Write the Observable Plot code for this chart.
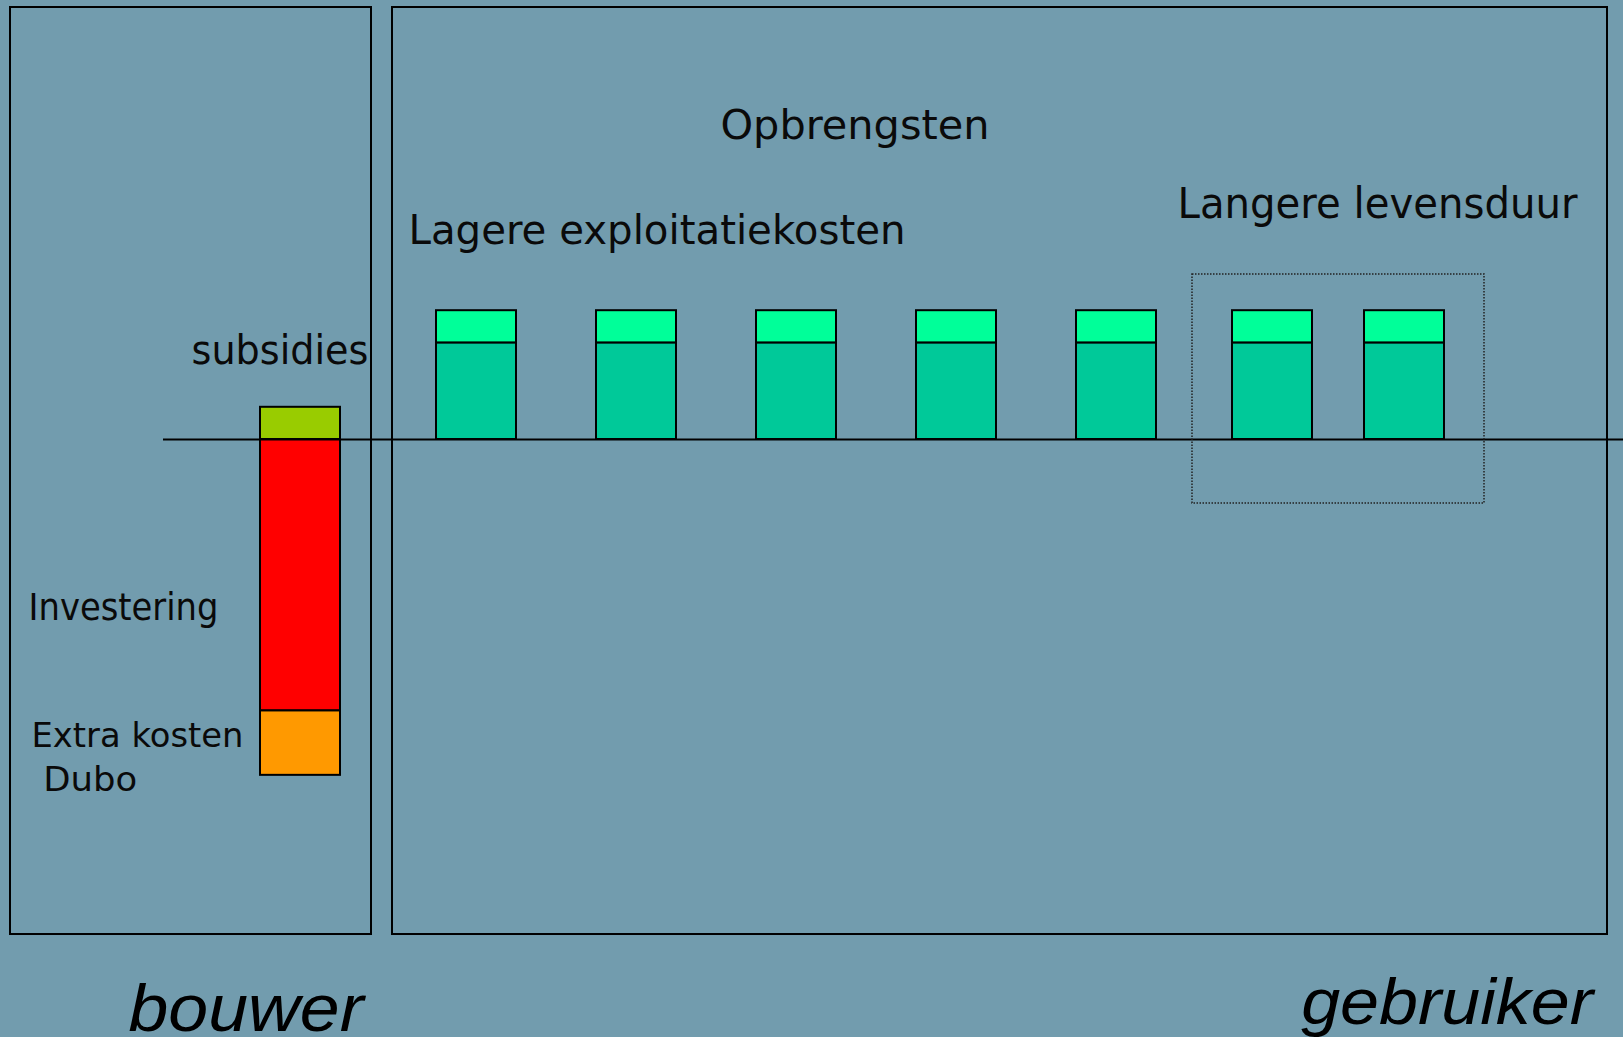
<!DOCTYPE html>
<html>
<head>
<meta charset="utf-8">
<script src="https://cdn.jsdelivr.net/npm/d3@7"></script>
<script src="https://cdn.jsdelivr.net/npm/@observablehq/plot@0.6"></script>
<style>
  html, body { margin: 0; padding: 0; background: #729cae; overflow: hidden; }
  #chart { width: 1623px; height: 1037px; }
</style>
</head>
<body>
<div id="chart"></div>
<script>
// ---------------- DATA ----------------
// bouwer (builder): one stacked bar
const bouwerParts = ["subsidies", "Investering", "Extra kosten Dubo"];
const bouwerValues = [1, -8.43, -2];
const bouwerPeriod = 0;

// gebruiker (user): seven stacked bars over time
const gebruikerPeriods = [1.1, 2.1, 3.1, 4.1, 5.1, 6.075, 6.9];
const exploitatieValues = [3, 3, 3, 3, 3, 3, 3];   // lagere exploitatiekosten
const opbrengstValues   = [1, 1, 1, 1, 1, 1, 1];   // opbrengsten (top part)

// text labels
const annotationTexts = ["Opbrengsten", "Lagere exploitatiekosten", "Langere levensduur",
                         "subsidies", "Investering", "Extra kosten", "Dubo"];
const groupTexts = ["bouwer", "gebruiker"];

// ---------------- LAYOUT / STYLE (not data) ----------------
const layout = {
  xDomain: [-1.875, 8.26875],
  yDomain: [-18.5714, 13.6335],
  barHalf: 0.25,
  panels: [
    {x1: -1.8125, x2: 0.44375, y1: -15.373, y2: 13.416},
    {x1: 0.575,   x2: 8.16875, y1: -15.373, y2: 13.416}
  ],
  box: [{x1: 5.575, x2: 7.4, y1: -1.988, y2: 5.124}],
  baseline: [{y: 0, x1: -0.85625, x2: 8.26875}],
  annotationPos: [
    {x: 2.625,    y: 9.317,  size: 41, width: 269},
    {x: 0.675,    y: 6.056,  size: 41, width: 497},
    {x: 5.48125,  y: 6.885,  size: 42, width: 400},
    {x: -0.68125, y: 2.360,  size: 41, width: 177},
    {x: -1.7,     y: -5.621, size: 37, width: 190},
    {x: -1.68125, y: -9.556, size: 34, width: 212},
    {x: -1.608,   y: -10.92, size: 34, width: 94}
  ],
  groupPos: [
    {x: -1.075, y: -18.376, size: 66, width: 235},
    {x: 6.254,  y: -18.137, size: 64, width: 292}
  ]
};
const colors = {
  domain: ["subsidies", "Investering", "Extra kosten Dubo", "exploitatie", "opbrengst"],
  range:  ["#99cc00", "#ff0000", "#ff9900", "#00c999", "#00ff99"]
};

// ---------------- BUILD TABLES ----------------
const bars = [
  ...bouwerParts.map((part, i) => ({period: bouwerPeriod, part, value: bouwerValues[i]})),
  ...gebruikerPeriods.flatMap((period, i) => [
    {period, part: "exploitatie", value: exploitatieValues[i]},
    {period, part: "opbrengst", value: opbrengstValues[i]}
  ])
];
const annotations = annotationTexts.map((text, i) => ({text, ...layout.annotationPos[i]}));
const groups = groupTexts.map((text, i) => ({text, ...layout.groupPos[i]}));

// ---------------- PLOT ----------------
const chart = Plot.plot({
  width: 1623,
  height: 1037,
  margin: 0,
  style: {background: "#729cae", fontFamily: "'DejaVu Sans', sans-serif", color: "#000"},
  x: {domain: layout.xDomain, axis: null},
  y: {domain: layout.yDomain, axis: null},
  color: {domain: colors.domain, range: colors.range},
  marks: [
    Plot.rect(layout.panels, {x1: "x1", x2: "x2", y1: "y1", y2: "y2", fill: "none", stroke: "#000", strokeWidth: 2}),
    Plot.rectY(bars, {
      x1: d => d.period - layout.barHalf,
      x2: d => d.period + layout.barHalf,
      y: "value",
      fill: "part",
      stroke: "#000",
      strokeWidth: 2
    }),
    Plot.ruleY(layout.baseline, {y: "y", x1: "x1", x2: "x2", stroke: "#000", strokeWidth: 2}),
    Plot.rect(layout.box, {x1: "x1", x2: "x2", y1: "y1", y2: "y2", fill: "none", stroke: "#222", strokeWidth: 1.5, strokeDasharray: "1.5,1.5"}),
    Plot.text(annotations, {
      x: "x", y: "y", text: "text", textAnchor: "start", lineAnchor: "bottom",
      fontSize: "size", fill: "#0a0a0a", fontFamily: "'DejaVu Sans', sans-serif"
    }),
    Plot.text(groups, {
      x: "x", y: "y", text: "text", textAnchor: "start", lineAnchor: "bottom",
      fontSize: "size", fill: "#000", fontStyle: "italic",
      fontFamily: "'Liberation Sans Narrow', 'Liberation Sans', Arial, sans-serif"
    })
  ]
});

// fit text widths to the reference
const widthByText = new Map([...annotations, ...groups].map(d => [d.text, d.width]));
d3.select(chart).selectAll("text").each(function () {
  const w = widthByText.get(this.textContent);
  if (w) {
    this.setAttribute("textLength", w);
    this.setAttribute("lengthAdjust", "spacingAndGlyphs");
  }
});

document.getElementById("chart").appendChild(chart);
</script>
</body>
</html>
